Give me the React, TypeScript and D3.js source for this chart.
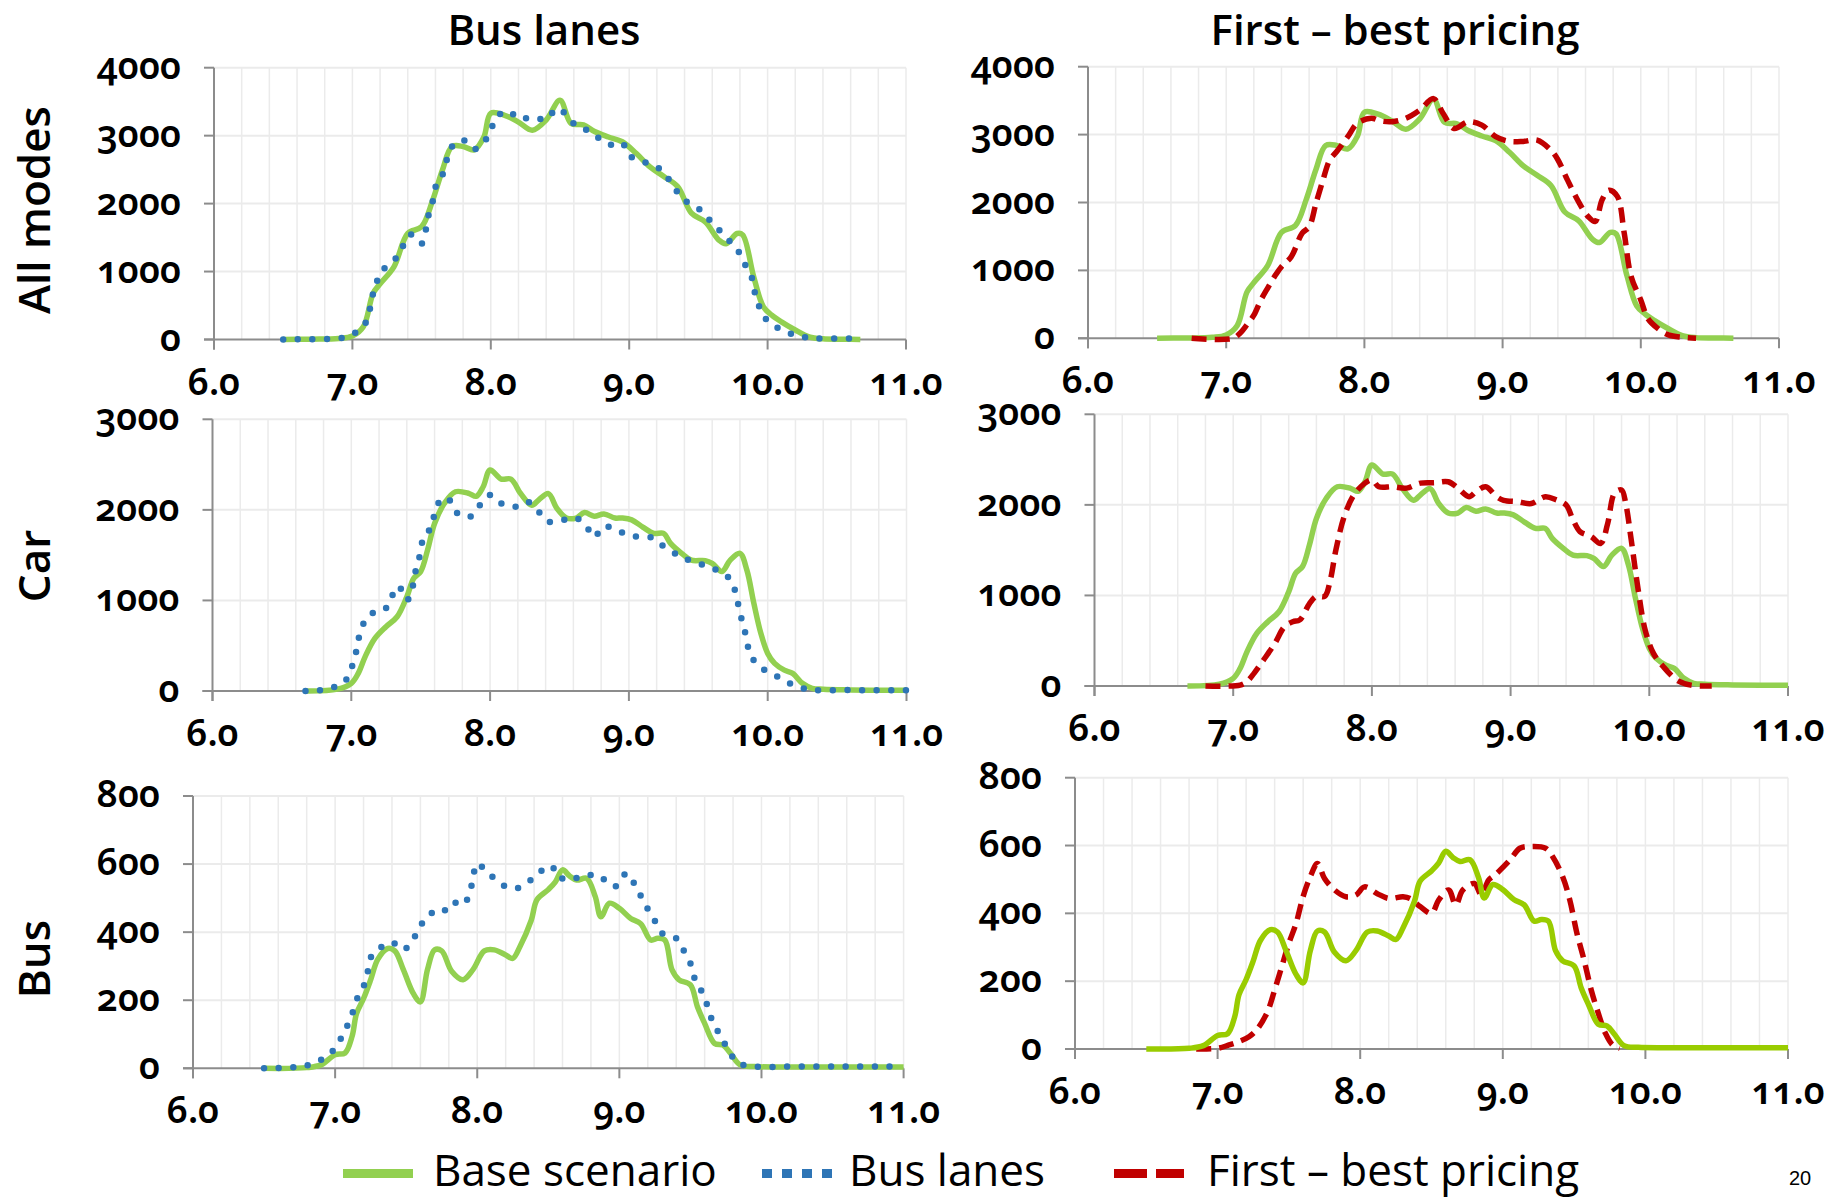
import React from 'react';
import * as d3 from 'd3';

const W = 1831;
const H = 1198;

// ---------- tick labels ----------
const xTickValues = [6, 7, 8, 9, 10, 11];
const xTickLabels = ['6.0', '7.0', '8.0', '9.0', '10.0', '11.0'];
const allTicks = [0, 1000, 2000, 3000, 4000];
const carTicks = [0, 1000, 2000, 3000];
const busTicks = [0, 200, 400, 600, 800];

const colTitles = ['Bus lanes', 'First – best pricing'];
const rowTitles = ['All modes', 'Car', 'Bus'];
const legendLabels = ['Base scenario', 'Bus lanes', 'First – best pricing'];

// ---------- data: [hour, trips] ----------
const allBase: [number, number][] = [
  [6.5, 0], [6.7, 5], [6.9, 15], [7.0, 50], [7.08, 190], [7.15, 680], [7.2, 820], [7.3, 1070],
  [7.4, 1560], [7.5, 1660], [7.58, 2050], [7.65, 2490], [7.72, 2840], [7.8, 2840], [7.88, 2790],
  [7.95, 2980], [8.0, 3330], [8.1, 3300], [8.2, 3200], [8.3, 3080], [8.4, 3230], [8.5, 3520],
  [8.58, 3180], [8.67, 3160], [8.75, 3060], [8.85, 2980], [8.95, 2910], [9.05, 2740], [9.15, 2540],
  [9.25, 2400], [9.35, 2250], [9.45, 1860], [9.55, 1730], [9.65, 1460], [9.7, 1410], [9.78, 1560],
  [9.82, 1540], [9.9, 920], [9.97, 480], [10.03, 360], [10.1, 260], [10.2, 140], [10.3, 40],
  [10.4, 10], [10.55, 5], [10.67, 0],
];
const allBusLanes: [number, number][] = [
  [6.5, 0], [6.7, 5], [6.9, 15], [6.95, 40], [7.03, 110], [7.1, 260], [7.13, 480], [7.15, 680],
  [7.18, 870], [7.23, 1045], [7.32, 1210], [7.37, 1390], [7.42, 1545], [7.5, 1410], [7.53, 1610],
  [7.55, 1830], [7.58, 2030], [7.6, 2240], [7.65, 2420], [7.68, 2630], [7.72, 2840], [7.8, 2935],
  [7.88, 2800], [7.95, 2900], [8.0, 3090], [8.05, 3290], [8.13, 3360], [8.2, 3250], [8.3, 3270],
  [8.4, 3240], [8.48, 3400], [8.55, 3300], [8.62, 3140], [8.72, 3060], [8.8, 2935], [8.88, 2860],
  [8.95, 2890], [9.0, 2710], [9.1, 2620], [9.2, 2540], [9.27, 2400], [9.33, 2220], [9.4, 2050],
  [9.5, 1930], [9.58, 1760], [9.65, 1610], [9.72, 1460], [9.78, 1330], [9.82, 1160], [9.88, 950],
  [9.9, 750], [9.93, 540], [9.97, 340], [10.03, 235], [10.1, 140], [10.2, 65], [10.3, 25],
  [10.4, 15], [10.6, 15],
];
const allPricing: [number, number][] = [
  [6.75, 0], [7.05, 0], [7.1, 75], [7.15, 200], [7.2, 340], [7.25, 560], [7.3, 740], [7.35, 910],
  [7.4, 1055], [7.47, 1200], [7.55, 1550], [7.6, 1640], [7.65, 1990], [7.7, 2330], [7.75, 2630],
  [7.8, 2750], [7.88, 2970], [7.95, 3170], [8.05, 3240], [8.12, 3200], [8.2, 3190], [8.3, 3240],
  [8.4, 3360], [8.5, 3530], [8.57, 3310], [8.65, 3090], [8.75, 3190], [8.85, 3140], [8.95, 2970],
  [9.05, 2900], [9.15, 2900], [9.25, 2920], [9.35, 2770], [9.4, 2630], [9.47, 2330], [9.55, 2010],
  [9.62, 1790], [9.67, 1720], [9.72, 2040], [9.77, 2180], [9.83, 2090], [9.88, 1550], [9.93, 910],
  [10.0, 565], [10.05, 295], [10.12, 150], [10.2, 50], [10.3, 15], [10.4, 0],
];

const carBase: [number, number][] = [
  [6.67, 0], [6.9, 20], [7.0, 85], [7.05, 195], [7.1, 380], [7.17, 580], [7.25, 710], [7.33, 820],
  [7.4, 1040], [7.45, 1245], [7.5, 1320], [7.55, 1560], [7.6, 1850], [7.67, 2070], [7.75, 2200],
  [7.85, 2180], [7.9, 2150], [7.95, 2255], [8.0, 2440], [8.08, 2340], [8.15, 2340], [8.22, 2180],
  [8.3, 2050], [8.35, 2110], [8.42, 2180], [8.48, 2020], [8.55, 1910], [8.62, 1910], [8.68, 1970],
  [8.75, 1930], [8.82, 1955], [8.9, 1910], [8.95, 1910], [9.02, 1890], [9.1, 1810], [9.18, 1740],
  [9.25, 1740], [9.3, 1630], [9.38, 1520], [9.45, 1445], [9.55, 1440], [9.6, 1410], [9.67, 1320],
  [9.73, 1445], [9.8, 1520], [9.85, 1335], [9.9, 970], [9.95, 640], [10.0, 415], [10.05, 305],
  [10.12, 230], [10.18, 195], [10.25, 85], [10.32, 30], [10.4, 20], [10.6, 12], [10.8, 8], [11.0, 8],
];
const carBusLanes: [number, number][] = [
  [6.67, 0], [6.75, 3], [6.85, 30], [6.95, 100], [7.0, 250], [7.03, 400], [7.05, 560], [7.08, 720],
  [7.14, 850], [7.24, 900], [7.29, 1040], [7.34, 1160], [7.4, 1005], [7.43, 1060], [7.45, 1220],
  [7.47, 1370], [7.5, 1530], [7.52, 1700], [7.58, 1815], [7.6, 1960], [7.65, 2120], [7.7, 2120],
  [7.75, 1980], [7.85, 1920], [7.92, 2040], [8.0, 2165], [8.07, 2080], [8.18, 2035], [8.27, 2090],
  [8.35, 1980], [8.42, 1870], [8.53, 1890], [8.62, 1910], [8.7, 1800], [8.75, 1700], [8.82, 1820],
  [8.93, 1760], [9.03, 1710], [9.15, 1700], [9.22, 1630], [9.32, 1530], [9.4, 1465], [9.5, 1410],
  [9.6, 1355], [9.7, 1280], [9.75, 1170], [9.78, 1010], [9.8, 860], [9.83, 700], [9.85, 545],
  [9.88, 385], [9.95, 260], [10.05, 175], [10.15, 90], [10.25, 30], [10.35, 10], [10.6, 10],
  [10.8, 8], [11.0, 8],
];
const carPricing: [number, number][] = [
  [6.8, 0], [7.05, 10], [7.1, 50], [7.15, 140], [7.22, 290], [7.3, 470], [7.37, 655], [7.43, 710],
  [7.48, 730], [7.55, 910], [7.6, 990], [7.66, 990], [7.7, 1170], [7.74, 1500], [7.8, 1870],
  [7.87, 2110], [7.95, 2240], [8.0, 2275], [8.05, 2200], [8.15, 2200], [8.25, 2185], [8.35, 2240],
  [8.45, 2245], [8.55, 2255], [8.62, 2185], [8.7, 2090], [8.75, 2145], [8.82, 2200], [8.9, 2090],
  [8.95, 2050], [9.05, 2035], [9.15, 2015], [9.25, 2090], [9.33, 2055], [9.4, 2000], [9.45, 1835],
  [9.5, 1705], [9.58, 1650], [9.65, 1575], [9.7, 1795], [9.75, 2130], [9.8, 2165], [9.83, 2015],
  [9.87, 1610], [9.92, 1060], [9.97, 620], [10.03, 360], [10.1, 215], [10.2, 65], [10.3, 10],
  [10.45, 0],
];

const busBase: [number, number][] = [
  [6.5, 0], [6.8, 2], [6.9, 10], [7.0, 40], [7.07, 45], [7.12, 95], [7.15, 160], [7.2, 205],
  [7.25, 260], [7.3, 320], [7.37, 352], [7.42, 345], [7.48, 290], [7.55, 220], [7.6, 195],
  [7.65, 290], [7.7, 348], [7.75, 345], [7.82, 285], [7.9, 260], [7.97, 290], [8.05, 345],
  [8.12, 348], [8.2, 333], [8.25, 323], [8.3, 357], [8.38, 435], [8.42, 495], [8.5, 525],
  [8.55, 548], [8.6, 583], [8.65, 565], [8.7, 553], [8.77, 558], [8.83, 505], [8.87, 445],
  [8.93, 485], [9.0, 470], [9.08, 440], [9.15, 425], [9.22, 377], [9.27, 382], [9.32, 377],
  [9.37, 290], [9.42, 260], [9.5, 245], [9.55, 180], [9.6, 132], [9.67, 73], [9.73, 68],
  [9.78, 45], [9.85, 10], [9.95, 5], [10.2, 4], [10.6, 4], [11.0, 4],
];
const busBusLanes: [number, number][] = [
  [6.5, 0], [6.7, 3], [6.8, 8], [6.9, 25], [6.97, 45], [7.03, 80], [7.08, 120], [7.12, 160],
  [7.15, 200], [7.2, 240], [7.23, 285], [7.25, 325], [7.32, 355], [7.4, 370], [7.48, 348],
  [7.55, 380], [7.6, 418], [7.67, 455], [7.75, 455], [7.82, 488], [7.9, 480], [7.95, 520],
  [7.97, 561], [8.0, 602], [8.05, 585], [8.12, 558], [8.2, 534], [8.28, 529], [8.37, 551],
  [8.45, 580], [8.52, 595], [8.58, 558], [8.65, 563], [8.72, 558], [8.83, 570], [8.9, 553],
  [8.97, 534], [9.05, 573], [9.1, 546], [9.15, 507], [9.2, 468], [9.25, 433], [9.3, 397],
  [9.4, 382], [9.45, 348], [9.5, 308], [9.53, 264], [9.58, 225], [9.62, 183], [9.65, 144],
  [9.7, 103], [9.75, 66], [9.8, 32], [9.85, 13], [9.95, 5], [10.2, 5], [10.6, 5], [11.0, 5],
];
const busPricing: [number, number][] = [
  [6.85, 0], [7.0, 2], [7.08, 12], [7.15, 22], [7.22, 36], [7.28, 60], [7.35, 110], [7.4, 174],
  [7.45, 243], [7.5, 312], [7.55, 370], [7.6, 450], [7.65, 508], [7.7, 547], [7.75, 503],
  [7.82, 469], [7.9, 449], [7.97, 454], [8.03, 478], [8.12, 458], [8.2, 444], [8.3, 449],
  [8.35, 444], [8.42, 420], [8.5, 400], [8.55, 439], [8.62, 469], [8.67, 425], [8.72, 469],
  [8.8, 488], [8.85, 454], [8.9, 498], [8.95, 515], [9.05, 557], [9.12, 592], [9.2, 597],
  [9.3, 592], [9.35, 567], [9.42, 508], [9.47, 439], [9.52, 341], [9.57, 262], [9.62, 174],
  [9.67, 105], [9.72, 46], [9.77, 12], [9.82, 2],
];

// ---------- styles ----------
const GREEN = '#92D050';
const GREEN_BR = '#99CC00';
const BLUE = '#2E75B6';
const RED = '#C00000';

type Style = 'green' | 'greenAlt' | 'blue' | 'red';

const strokeProps = (s: Style) => {
  switch (s) {
    case 'green':
      return { stroke: GREEN, strokeWidth: 5.5 };
    case 'greenAlt':
      return { stroke: GREEN_BR, strokeWidth: 5.5 };
    case 'blue':
      return { stroke: BLUE, strokeWidth: 6.5, strokeDasharray: '0 14.6', strokeLinecap: 'round' as const };
    case 'red':
      return { stroke: RED, strokeWidth: 5.5, strokeDasharray: '15 8' };
  }
};

interface Panel {
  x0: number; x1: number; yTop: number; yBot: number; yMax: number; yTicks: number[];
  series: { data: [number, number][]; style: Style }[];
}

const panels: Panel[] = [
  { x0: 214, x1: 906, yTop: 67.7, yBot: 339.5, yMax: 4000, yTicks: allTicks,
    series: [{ data: allBase, style: 'green' }, { data: allBusLanes, style: 'blue' }] },
  { x0: 1088, x1: 1779, yTop: 66.7, yBot: 338.3, yMax: 4000, yTicks: allTicks,
    series: [{ data: allBase, style: 'green' }, { data: allPricing, style: 'red' }] },
  { x0: 212.5, x1: 906.5, yTop: 419.3, yBot: 691, yMax: 3000, yTicks: carTicks,
    series: [{ data: carBase, style: 'green' }, { data: carBusLanes, style: 'blue' }] },
  { x0: 1094.5, x1: 1788, yTop: 414.3, yBot: 686, yMax: 3000, yTicks: carTicks,
    series: [{ data: carBase, style: 'green' }, { data: carPricing, style: 'red' }] },
  { x0: 193, x1: 903.6, yTop: 796, yBot: 1068.3, yMax: 800, yTicks: busTicks,
    series: [{ data: busBase, style: 'green' }, { data: busBusLanes, style: 'blue' }] },
  { x0: 1075, x1: 1788, yTop: 777.7, yBot: 1049, yMax: 800, yTicks: busTicks,
    series: [{ data: busPricing, style: 'red' }, { data: busBase, style: 'greenAlt' }] },
];

const tickFont = "'Noto Sans', 'Open Sans', sans-serif";
const titleFont = "'Open Sans', 'Noto Sans', sans-serif";

function PanelChart({ p }: { p: Panel }) {
  const x = d3.scaleLinear().domain([6, 11]).range([p.x0, p.x1]);
  const y = d3.scaleLinear().domain([0, p.yMax]).range([p.yBot, p.yTop]);
  const line = d3
    .line<[number, number]>()
    .x((d) => x(d[0]))
    .y((d) => y(d[1]))
    .curve(d3.curveCatmullRom.alpha(0.5));
  const minor = d3.range(6.2, 11.01, 0.2);
  return (
    <g>
      {minor.map((m) => (
        <line key={'v' + m} x1={x(m)} x2={x(m)} y1={p.yTop} y2={p.yBot} stroke="#EBEBEB" strokeWidth={1.5} />
      ))}
      {p.yTicks.filter((t) => t > 0).map((t) => (
        <line key={'h' + t} x1={p.x0} x2={p.x1} y1={y(t)} y2={y(t)} stroke="#EBEBEB" strokeWidth={2} />
      ))}
      <line x1={p.x0 - 10} x2={p.x1} y1={p.yBot} y2={p.yBot} stroke="#8C8C8C" strokeWidth={2} />
      <line x1={p.x0} x2={p.x0} y1={p.yTop} y2={p.yBot + 10} stroke="#8C8C8C" strokeWidth={2} />
      {p.yTicks.map((t) => (
        <line key={'yt' + t} x1={p.x0 - 10} x2={p.x0} y1={y(t)} y2={y(t)} stroke="#8C8C8C" strokeWidth={2} />
      ))}
      {xTickValues.map((t) => (
        <line key={'xt' + t} x1={x(t)} x2={x(t)} y1={p.yBot} y2={p.yBot + 10} stroke="#8C8C8C" strokeWidth={2} />
      ))}
      {p.yTicks.map((t) => (
        <text key={'yl' + t} x={p.x0 - 33} y={y(t) + 11} textAnchor="end" fontFamily={tickFont}
          fontWeight={600} fontSize={37} fill="#000" style={{ fontVariantNumeric: 'oldstyle-nums' }}>
          {String(t)}
        </text>
      ))}
      {xTickValues.map((t, i) => (
        <text key={'xl' + t} x={x(t)} y={p.yBot + 55} textAnchor="middle" fontFamily={tickFont}
          fontWeight={600} fontSize={37} fill="#000" style={{ fontVariantNumeric: 'oldstyle-nums' }}>
          {xTickLabels[i]}
        </text>
      ))}
      {p.series.map((s, i) => (
        <path key={'s' + i} d={line(s.data) || ''} fill="none" strokeLinejoin="round" {...strokeProps(s.style)} />
      ))}
    </g>
  );
}

export default function App() {
  const rowY = [210, 566, 959];
  const legend = [
    { x: 343, label: legendLabels[0], tx: 433, stroke: GREEN, dash: undefined as string | undefined },
    { x: 762, label: legendLabels[1], tx: 849, stroke: BLUE, dash: '10 10' },
    { x: 1114, label: legendLabels[2], tx: 1207, stroke: RED, dash: '33 9' },
  ];
  return (
    <svg width={W} height={H} viewBox={`0 0 ${W} ${H}`}
      style={{ position: 'absolute', left: 0, top: 0, background: '#fff' }}>
      <rect x={0} y={0} width={W} height={H} fill="#fff" />
      <text x={544} y={45} textAnchor="middle" fontFamily={titleFont} fontWeight={600} fontSize={42}>
        {colTitles[0]}
      </text>
      <text x={1395} y={45} textAnchor="middle" fontFamily={titleFont} fontWeight={600} fontSize={42}>
        {colTitles[1]}
      </text>
      {rowTitles.map((r, i) => (
        <text key={r} transform={`translate(50,${rowY[i]}) rotate(-90)`} textAnchor="middle"
          fontFamily={titleFont} fontWeight={600} fontSize={44}>
          {r}
        </text>
      ))}
      {panels.map((p, i) => (
        <PanelChart key={i} p={p} />
      ))}
      {legend.map((l) => (
        <g key={l.label}>
          <line x1={l.x} x2={l.x + 70} y1={1173.5} y2={1173.5} stroke={l.stroke} strokeWidth={9}
            strokeDasharray={l.dash} />
          <text x={l.tx} y={1186} fontFamily={titleFont} fontWeight={500} fontSize={44}>
            {l.label}
          </text>
        </g>
      ))}
      <text x={1800} y={1185} textAnchor="middle" fontFamily="'Liberation Sans', Arial, sans-serif" fontSize={20}>
        20
      </text>
    </svg>
  );
}
